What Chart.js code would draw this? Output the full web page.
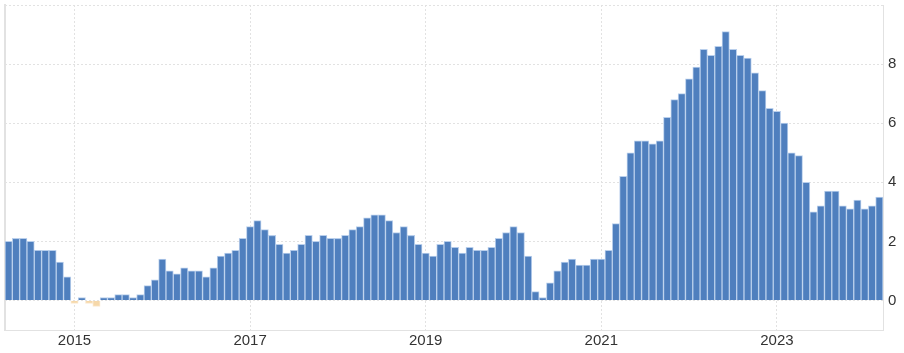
<!DOCTYPE html>
<html>
<head>
<meta charset="utf-8">
<script src="https://cdn.jsdelivr.net/npm/chart.js@4"></script>
<style>
  html, body { margin: 0; padding: 0; background: #fff; }
  #wrap { width: 904px; height: 353px; }
</style>
</head>
<body>
<div id="wrap"><canvas id="cpi_chart"></canvas></div>
<script>
// Inflation rate, year over year, monthly (Apr 2014 - Mar 2024)
const firstMonth = 4; // April of the first year
const years = [2014, 2015, 2016, 2017, 2018, 2019, 2020, 2021, 2022, 2023, 2024];
const values2014 = [2.0, 2.1, 2.1, 2.0, 1.7, 1.7, 1.7, 1.3, 0.8];
const values2015 = [-0.1, 0.1, -0.1, -0.2, 0.1, 0.1, 0.2, 0.2, 0.1, 0.2, 0.5, 0.7];
const values2016 = [1.4, 1.0, 0.9, 1.1, 1.0, 1.0, 0.8, 1.1, 1.5, 1.6, 1.7, 2.1];
const values2017 = [2.5, 2.7, 2.4, 2.2, 1.9, 1.6, 1.7, 1.9, 2.2, 2.0, 2.2, 2.1];
const values2018 = [2.1, 2.2, 2.4, 2.5, 2.8, 2.9, 2.9, 2.7, 2.3, 2.5, 2.2, 1.9];
const values2019 = [1.6, 1.5, 1.9, 2.0, 1.8, 1.6, 1.8, 1.7, 1.7, 1.8, 2.1, 2.3];
const values2020 = [2.5, 2.3, 1.5, 0.3, 0.1, 0.6, 1.0, 1.3, 1.4, 1.2, 1.2, 1.4];
const values2021 = [1.4, 1.7, 2.6, 4.2, 5.0, 5.4, 5.4, 5.3, 5.4, 6.2, 6.8, 7.0];
const values2022 = [7.5, 7.9, 8.5, 8.3, 8.6, 9.1, 8.5, 8.3, 8.2, 7.7, 7.1, 6.5];
const values2023 = [6.4, 6.0, 5.0, 4.9, 4.0, 3.0, 3.2, 3.7, 3.7, 3.2, 3.1, 3.4];
const values2024 = [3.1, 3.2, 3.5];
const yTicks = [0, 2, 4, 6, 8, 10];
const yearLabels = ['2015', '2017', '2019', '2021', '2023'];

const byYear = [values2014, values2015, values2016, values2017, values2018, values2019,
                values2020, values2021, values2022, values2023, values2024];
const labels = [];
const values = [];
byYear.forEach(function (arr, i) {
    const start = i === 0 ? firstMonth : 1;
    arr.forEach(function (v, j) {
        const m = start + j;
        labels.push(years[i] + '-' + (m < 10 ? '0' + m : m));
        values.push(v);
    });
});

function yearOf(label) {
    return label.endsWith('-01') && yearLabels.includes(label.slice(0, 4)) ? label.slice(0, 4) : '';
}

const gridGrey = '#e2e2e2';
const frameGrey = '#e2e2e2';
const textColor = '#333333';
const font = { family: 'Liberation Sans, Arial, sans-serif', size: 15 };

let cpi_chart = new Chart(document.getElementById('cpi_chart').getContext('2d'), {
    type: 'bar',
    data: {
        labels: labels,
        datasets: [{
            data: values,
            backgroundColor: function (ctx) {
                return ctx.raw < 0 ? '#f6d8aa' : '#4f7fbe';
            },
            borderColor: function (ctx) {
                return ctx.raw < 0 ? '#fbe9cf' : '#b9cfec';
            },
            borderWidth: 1,
            borderSkipped: 'start',
            barPercentage: 1,
            categoryPercentage: 1,
            yAxisID: 'y'
        }]
    },
    options: {
        responsive: true,
        maintainAspectRatio: false,
        animation: false,
        layout: { padding: { top: 5, left: 0, right: 0, bottom: 0 } },
        plugins: {
            legend: { display: false },
            tooltip: { enabled: false }
        },
        scales: {
            x: {
                grid: {
                    offset: false,
                    drawTicks: false,
                    color: function (ctx) {
                        return ctx.tick && ctx.tick.label ? gridGrey : 'transparent';
                    }
                },
                // in v4 border.dash is the dash of the grid lines
                border: { display: true, color: frameGrey, dash: [2, 2] },
                ticks: {
                    autoSkip: false,
                    maxRotation: 0,
                    padding: 2,
                    color: textColor,
                    font: font,
                    callback: function (value) {
                        return yearOf(this.getLabelForValue(value));
                    }
                },
                afterFit: function (scale) {
                    scale.height = 23;
                    scale.paddingLeft = 0;
                    scale.paddingRight = 0;
                }
            },
            y: {
                position: 'right',
                min: -1,
                max: 10,
                afterBuildTicks: function (scale) {
                    scale.ticks = yTicks.map(function (v) { return { value: v }; });
                },
                grid: {
                    drawTicks: false,
                    color: gridGrey
                },
                border: { display: true, color: frameGrey, dash: [2, 2] },
                ticks: {
                    padding: 5,
                    color: textColor,
                    font: font,
                    callback: function (value) { return value === 10 ? '' : value; }
                },
                afterFit: function (scale) {
                    scale.width = 21;
                    scale.paddingTop = 0;
                    scale.paddingBottom = 0;
                }
            },
            yLeft: {
                position: 'left',
                min: -1,
                max: 10,
                grid: { display: false, drawTicks: false },
                border: { display: true, color: frameGrey, width: 2 },
                ticks: { display: false },
                afterFit: function (scale) {
                    scale.width = 5;
                    scale.paddingTop = 0;
                    scale.paddingBottom = 0;
                }
            }
        }
    }
});
</script>
</body>
</html>
